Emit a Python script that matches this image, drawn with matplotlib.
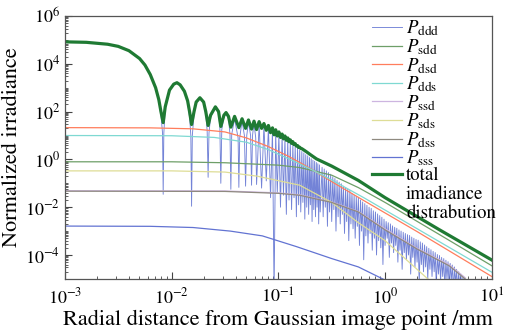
import numpy as np
import matplotlib
matplotlib.use("Agg")
from matplotlib import pyplot as plt
from matplotlib import ticker

plt.rcParams['font.family'] = ['STIXGeneral', 'DejaVu Serif']
plt.rcParams['mathtext.fontset'] = 'stix'

# all curves: x as log10(r/mm), y as log10(irradiance)
tot_L = [-3.0, -2.8, -2.6, -2.5, -2.4, -2.3, -2.25, -2.2, -2.15, -2.12,
         -2.1, -2.079, -2.06, -2.02, -1.98, -1.95, -1.92, -1.88, -1.85, -1.83,
         -1.813, -1.79, -1.77, -1.735, -1.70, -1.68, -1.658, -1.635, -1.59, -1.56,
         -1.539, -1.51, -1.49, -1.467, -1.445, -1.41, -1.37, -1.34, -1.307, -1.28,
         -1.251, -1.228, -1.204, -1.18, -1.157, -1.135, -1.113, -1.093, -1.073, -1.055,
         -1.04, -1.025, -1.01, -0.995, -0.98, -0.965, -0.952, -0.938, -0.925, -0.912,
         -0.9, -0.888, -0.876, -0.864, -0.853, -0.842, -0.831, -0.82, -0.81, -0.8,
         -0.79, -0.78, -0.76, -0.74, -0.7, -0.642, -0.5, -0.25, 0.0, 0.5, 1.0]
tot_y = [4.92, 4.9, 4.82, 4.73, 4.55, 4.22, 3.95, 3.55, 3.0, 2.5,
         2.0, 1.54, 2.2, 2.9, 3.15, 3.21, 3.12, 2.85, 2.45, 1.95,
         1.46, 2.0, 2.4, 2.58, 2.4, 2.0, 1.42, 1.85, 2.2, 2.0,
         1.38, 1.85, 1.96, 1.8, 1.35, 1.8, 1.33, 1.7, 1.3, 1.65,
         1.27, 1.6, 1.25, 1.58, 1.3, 1.5, 1.22, 1.42, 1.12, 1.32,
         1.03, 1.24, 0.98, 1.15, 0.92, 1.06, 0.86, 0.98, 0.8, 0.9,
         0.74, 0.82, 0.67, 0.74, 0.62, 0.66, 0.56, 0.58, 0.5, 0.51,
         0.46, 0.45, 0.39, 0.33, 0.2, 0.02, -0.28, -0.88, -1.6, -2.92, -4.21]

ddd_L = [-3.0, -2.8, -2.6, -2.5, -2.4, -2.3, -2.25, -2.2, -2.15, -2.12,
         -2.1, -2.085, -2.079, -2.073, -2.06, -2.02, -1.98, -1.95, -1.92, -1.88,
         -1.85, -1.83, -1.82, -1.813, -1.806, -1.79, -1.77, -1.735, -1.70, -1.68,
         -1.667, -1.658, -1.65, -1.635, -1.59, -1.56, -1.548, -1.539, -1.53, -1.51,
         -1.49, -1.467, -1.453, -1.445, -1.437, -1.41, -1.377, -1.37, -1.362, -1.34,
         -1.318, -1.307, -1.296, -1.28, -1.26, -1.251, -1.242, -1.228, -1.212, -1.204,
         -1.18, -1.157, -1.135, -1.113, -1.093, -1.073, -1.055, -1.04, -1.025, -1.01,
         -0.995, -0.98, -0.965, -0.952, -0.938, -0.925, -0.912, -0.9, -0.888, -0.876,
         -0.864, -0.853, -0.842, -0.831, -0.82, -0.81, -0.8, -0.79, -0.78, -0.77,
         -0.761, -0.752, -0.743, -0.734, -0.725, -0.716, -0.708, -0.70, -0.692, -0.684,
         -0.676, -0.668, -0.66, -0.652, -0.644, -0.637, -0.63, -0.622, -0.615, -0.608,
         -0.59, -0.58, -0.57, -0.56, -0.55, -0.54, -0.53, -0.52, -0.51, -0.50,
         -0.49, -0.48, -0.47, -0.46, -0.45, -0.44, -0.43, -0.42, -0.41, -0.40,
         -0.39, -0.38, -0.37, -0.36, -0.35, -0.34, -0.33, -0.32, -0.31, -0.30,
         -0.29, -0.28, -0.27, -0.26, -0.25, -0.24, -0.23, -0.22, -0.21, -0.20,
         -0.19, -0.18, -0.17, -0.16, -0.15, -0.14, -0.13, -0.12, -0.11, -0.10,
         -0.09, -0.08, -0.07, -0.06, -0.05, -0.04, -0.03, -0.02, -0.01, 0.00,
         0.01, 0.02, 0.03, 0.04, 0.05, 0.06, 0.07, 0.08, 0.09, 0.10,
         0.11, 0.12, 0.13, 0.14, 0.15, 0.16, 0.17, 0.18, 0.19, 0.20,
         0.21, 0.22, 0.23, 0.24, 0.25, 0.26, 0.27, 0.28, 0.29, 0.30,
         0.31, 0.32, 0.33, 0.34, 0.35, 0.36, 0.37, 0.38, 0.39, 0.40,
         0.41, 0.42, 0.43, 0.44, 0.45, 0.46, 0.47, 0.48, 0.49, 0.50,
         0.51, 0.52, 0.53, 0.54, 0.55, 0.56, 0.57, 0.58, 0.59, 0.60,
         0.61, 0.62, 0.63, 0.64, 0.65, 0.66, 0.67, 0.68, 0.69, 0.70,
         0.71, 0.72, 0.73, 0.74, 0.75, 0.76, 0.77, 0.78]
ddd_y = [4.92, 4.9, 4.82, 4.73, 4.55, 4.22, 3.95, 3.55, 3.0, 2.45,
         1.85, 1.1, -1.46, 1.1, 2.1, 2.88, 3.14, 3.2, 3.11, 2.83,
         2.38, 1.7, 1.0, -1.96, 1.0, 1.9, 2.36, 2.55, 2.35, 1.9,
         1.2, -0.75, 1.1, 1.78, 2.15, 1.93, 1.35, -1.0, 1.25, 1.78,
         1.9, 1.7, 1.05, -1.25, 1.05, 1.7, 0.9, -1.17, 0.9, 1.62,
         1.0, -1.12, 1.0, 1.57, 1.0, -1.08, 1.0, 1.52, 0.9, -1.05,
         1.5, -1.2, 1.42, -0.9, 1.33, -1.6, 1.22, -5.6, 1.13, -1.4,
         1.05, -2.0, 0.95, -1.5, 0.86, -2.3, 0.78, -1.7, 0.7, -2.1,
         0.62, -1.6, 0.55, -2.4, 0.48, -1.9, 0.4, -2.2, 0.33, -1.8,
         0.27, -2.5, 0.2, -2.0, 0.15, -2.3, 0.08, -1.9, 0.03, -2.6,
         -0.03, -2.1, -0.08, -2.4, -0.13, -2.0, -0.18, -2.7, -0.23, -2.2,
         -0.33, -2.4, -0.4, -2.0, -0.48, -2.8, -0.55, -2.2, -0.62, -2.6,
         -0.73, -2.1, -0.8, -3.0, -0.88, -2.4, -0.95, -2.7, -1.02, -2.3,
         -1.12, -3.1, -1.18, -2.6, -1.25, -3.4, -1.3, -2.7, -1.42, -2.9,
         -1.5, -3.3, -1.55, -2.8, -1.62, -3.6, -1.7, -3.0, -1.78, -4.2,
         -1.85, -3.2, -1.92, -3.5, -2.0, -3.1, -2.05, -3.8, -2.15, -3.3,
         -2.2, -4.0, -2.28, -3.4, -2.35, -3.7, -2.42, -4.4, -2.5, -3.6,
         -2.6, -3.3, -2.65, -4.1, -2.7, -3.5, -2.78, -3.9, -2.84, -3.6,
         -2.88, -4.3, -2.95, -3.8, -3.0, -4.6, -3.05, -3.9, -3.1, -4.2,
         -3.15, -4.0, -3.18, -4.8, -3.25, -4.1, -3.3, -4.5, -3.35, -4.3,
         -3.38, -5.2, -3.45, -4.4, -3.5, -4.7, -3.58, -4.5, -3.65, -5.0,
         -3.72, -4.6, -3.78, -4.9, -3.85, -4.7, -3.9, -5.3, -3.98, -4.8,
         -4.02, -5.1, -4.1, -4.9, -4.15, -5.4, -4.22, -5.0, -4.28, -5.3,
         -4.35, -5.1, -4.42, -5.5, -4.5, -5.2, -4.6, -5.5, -4.7, -5.4,
         -4.8, -5.5, -4.9, -5.5, -5.0, -5.5, -5.1, -5.5]

sdd_L = [-3.0, -2.0, -1.5, -1.0, -0.8, -0.5, -0.25, 0.0, 0.5, 1.0]
sdd_y = [-0.1, -0.1, -0.14, -0.24, -0.34, -0.66, -1.18, -1.8, -3.12, -4.45]

dsd_L = [-3.0, -2.2, -1.8, -1.5, -1.3, -1.1, -0.9, -0.7, -0.5, -0.2, 0.3, 1.0]
dsd_y = [1.33, 1.32, 1.28, 1.15, 0.9, 0.55, 0.12, -0.38, -0.93, -1.72, -3.02, -4.9]

dds_L = [-3.0, -2.0, -1.6, -1.3, -1.1, -0.9, -0.7, -0.5, -0.2, 0.3, 1.0]
dds_y = [1.0, 0.99, 0.92, 0.72, 0.42, 0.02, -0.4, -0.86, -1.6, -2.9, -4.72]

ssd_L = [-3.0, -1.5, -1.0, -0.8, -0.5, -0.25, 0.0, 0.3, 0.6, 0.75]
ssd_y = [-1.31, -1.32, -1.4, -1.48, -1.78, -2.18, -2.9, -3.72, -4.4, -4.95]

sds_L = [-3.0, -2.0, -1.5, -1.2, -0.8, -0.5, -0.25, 0.0, 0.3, 0.45]
sds_y = [-0.48, -0.48, -0.53, -0.7, -1.08, -1.8, -2.65, -3.4, -4.6, -5.2]

dss_L = [-3.0, -1.5, -1.0, -0.8, -0.5, -0.25, 0.0, 0.3, 0.6, 0.75]
dss_y = [-1.33, -1.34, -1.42, -1.5, -1.8, -2.2, -2.95, -3.75, -4.45, -5.0]

sss_L = [-3.0, -2.2, -1.8, -1.45, -1.15, -0.83, -0.5, -0.25, 0.0, 0.1]
sss_y = [-2.79, -2.8, -2.85, -3.0, -3.2, -3.65, -4.15, -4.5, -5.05, -5.3]

names = ['ddd', 'sdd', 'dsd', 'dds', 'ssd', 'sds', 'dss', 'sss']
colors = ['#5a6dd0', '#6e9f68', '#ff7d5c', '#7fd9d2', '#cdb5e0', '#dedd96', '#8f8a80', '#6273d2']
curves = [(ddd_L, ddd_y), (sdd_L, sdd_y), (dsd_L, dsd_y), (dds_L, dds_y),
          (ssd_L, ssd_y), (sds_L, sds_y), (dss_L, dss_y), (sss_L, sss_y)]

fig = plt.figure(figsize=(5.07, 3.34), dpi=100)
ax = fig.add_axes([0.128, 0.165, 0.842, 0.787])

for i, (nm, col, (L, Y)) in enumerate(zip(names, colors, curves)):
    ax.plot(np.power(10.0, L), np.power(10.0, Y), color=col,
            lw=0.65 if i == 0 else 0.9, alpha=0.85 if i == 0 else 1.0,
            label=r'$P_{\rm %s}$' % nm)
ax.plot(np.power(10.0, tot_L), np.power(10.0, tot_y), color='#1f7a33', lw=2.3,
        label='total')

ax.set_xscale('log')
ax.set_yscale('log')
ax.set_xlim(1e-3, 10)
ax.set_ylim(1e-5, 1e6)
ax.set_yticks([1e-4, 1e-2, 1, 1e2, 1e4, 1e6])
ax.yaxis.set_minor_locator(ticker.LogLocator(base=10, subs=(1, 2, 3, 4, 5, 6, 7, 8, 9), numticks=40))
ax.xaxis.set_minor_locator(ticker.LogLocator(base=10, subs=(2, 3, 4, 5, 6, 7, 8, 9), numticks=40))
ax.yaxis.set_minor_formatter(ticker.NullFormatter())
ax.xaxis.set_minor_formatter(ticker.NullFormatter())
ax.tick_params(which='both', direction='in', top=False, right=False, colors='#444444',
               labelcolor='black', labelsize=13)
ax.tick_params(which='major', length=5, width=0.8)
ax.tick_params(which='minor', length=2.5, width=0.6)
ax.tick_params(axis='x', pad=6)
for s in ax.spines.values():
    s.set_color('#555555')
    s.set_linewidth(0.9)

ax.set_xlabel('Radial distance from Gaussian image point /mm', fontsize=16, labelpad=2)
ax.set_ylabel('Normalized irradiance', fontsize=16, labelpad=2)

leg = ax.legend(loc='upper left', bbox_to_anchor=(0.72, 0.99),
                frameon=False, fontsize=13.5, handlelength=1.6, handletextpad=0.2,
                labelspacing=-0.06, borderaxespad=0, borderpad=0)

# the rest of the "total" label, on two more lines under it
fig.canvas.draw()
bb = leg.get_texts()[-1].get_window_extent()
inv = ax.transAxes.inverted()
x0, y0 = inv.transform((bb.x0, bb.y0))
step = 19.0 / ax.bbox.height
for k, line in enumerate(['imadiance', 'distrabution']):
    ax.text(x0, y0 - step * (k + 1), line, transform=ax.transAxes,
            fontsize=13.5, ha='left', va='bottom')

fig.savefig('out.png', dpi=100)
